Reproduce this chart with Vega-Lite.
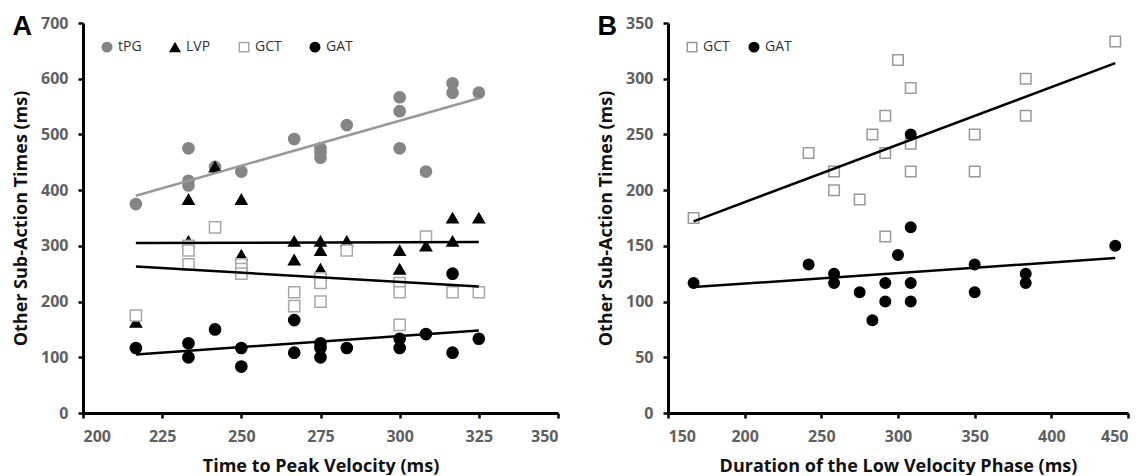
{
  "$schema": "https://vega.github.io/schema/vega-lite/v6.json",
  "padding": {"left": 12, "top": 13, "right": 0, "bottom": 0},
  "background": "white",
  "config": {
    "view": {"stroke": null},
    "font": "Open Sans",
    "axis": {
      "grid": false,
      "domainColor": "#000",
      "domainWidth": 3,
      "tickColor": "#000",
      "tickWidth": 2.5,
      "tickSize": 5,
      "labelColor": "#606060",
      "labelFont": "Open Sans",
      "labelFontSize": 16,
      "labelFontWeight": "bold",
      "labelPadding": 10,
      "titleFont": "Open Sans",
      "titleFontSize": 18,
      "titleFontWeight": "bold",
      "titleColor": "#111"
    },
    "axisX": {"titlePadding": 13},
    "axisY": {"titlePadding": 10},
    "legend": {
      "orient": "top-left",
      "direction": "horizontal",
      "offset": 17,
      "labelFont": "Open Sans",
      "labelFontSize": 14,
      "labelColor": "#333",
      "symbolSize": 90,
      "symbolStrokeWidth": 1.5,
      "padding": 0
    },
    "title": {"font": "Arial", "fontSize": 27, "fontWeight": "bold", "color": "#000", "anchor": "start", "frame": "bounds", "offset": 0}
  },
  "datasets": {
    "a_points": [
      {"t": 216.7, "v": 375, "s": "tPG"},
      {"t": 233.3, "v": 475, "s": "tPG"},
      {"t": 233.3, "v": 416.7, "s": "tPG"},
      {"t": 233.3, "v": 408.3, "s": "tPG"},
      {"t": 241.7, "v": 441.7, "s": "tPG"},
      {"t": 250, "v": 433.3, "s": "tPG"},
      {"t": 266.7, "v": 491.7, "s": "tPG"},
      {"t": 275, "v": 475, "s": "tPG"},
      {"t": 275, "v": 466.7, "s": "tPG"},
      {"t": 275, "v": 458.3, "s": "tPG"},
      {"t": 283.3, "v": 516.7, "s": "tPG"},
      {"t": 300, "v": 566.7, "s": "tPG"},
      {"t": 300, "v": 541.7, "s": "tPG"},
      {"t": 300, "v": 475, "s": "tPG"},
      {"t": 308.3, "v": 433.3, "s": "tPG"},
      {"t": 316.7, "v": 591.7, "s": "tPG"},
      {"t": 316.7, "v": 575, "s": "tPG"},
      {"t": 325, "v": 575, "s": "tPG"},
      {"t": 216.7, "v": 163, "s": "LVP"},
      {"t": 233.3, "v": 383.3, "s": "LVP"},
      {"t": 233.3, "v": 308.3, "s": "LVP"},
      {"t": 241.7, "v": 441.7, "s": "LVP"},
      {"t": 250, "v": 383.3, "s": "LVP"},
      {"t": 250, "v": 283.3, "s": "LVP"},
      {"t": 266.7, "v": 308.3, "s": "LVP"},
      {"t": 266.7, "v": 275, "s": "LVP"},
      {"t": 275, "v": 308.3, "s": "LVP"},
      {"t": 275, "v": 291.7, "s": "LVP"},
      {"t": 275, "v": 258.3, "s": "LVP"},
      {"t": 283.3, "v": 308.3, "s": "LVP"},
      {"t": 300, "v": 291.7, "s": "LVP"},
      {"t": 300, "v": 258.3, "s": "LVP"},
      {"t": 308.3, "v": 300, "s": "LVP"},
      {"t": 316.7, "v": 308.3, "s": "LVP"},
      {"t": 316.7, "v": 350, "s": "LVP"},
      {"t": 325, "v": 350, "s": "LVP"},
      {"t": 216.7, "v": 175, "s": "GCT"},
      {"t": 233.3, "v": 300, "s": "GCT"},
      {"t": 233.3, "v": 291.7, "s": "GCT"},
      {"t": 233.3, "v": 266.7, "s": "GCT"},
      {"t": 241.7, "v": 333.3, "s": "GCT"},
      {"t": 250, "v": 266.7, "s": "GCT"},
      {"t": 250, "v": 258.3, "s": "GCT"},
      {"t": 250, "v": 250, "s": "GCT"},
      {"t": 266.7, "v": 216.7, "s": "GCT"},
      {"t": 266.7, "v": 191.7, "s": "GCT"},
      {"t": 275, "v": 241.7, "s": "GCT"},
      {"t": 275, "v": 233.3, "s": "GCT"},
      {"t": 275, "v": 200, "s": "GCT"},
      {"t": 283.3, "v": 291.7, "s": "GCT"},
      {"t": 300, "v": 233.3, "s": "GCT"},
      {"t": 300, "v": 216.7, "s": "GCT"},
      {"t": 300, "v": 158.3, "s": "GCT"},
      {"t": 308.3, "v": 316.7, "s": "GCT"},
      {"t": 316.7, "v": 216.7, "s": "GCT"},
      {"t": 325, "v": 216.7, "s": "GCT"},
      {"t": 216.7, "v": 116.7, "s": "GAT"},
      {"t": 233.3, "v": 125, "s": "GAT"},
      {"t": 233.3, "v": 100, "s": "GAT"},
      {"t": 241.7, "v": 150, "s": "GAT"},
      {"t": 250, "v": 116.7, "s": "GAT"},
      {"t": 250, "v": 83.3, "s": "GAT"},
      {"t": 266.7, "v": 166.7, "s": "GAT"},
      {"t": 266.7, "v": 108.3, "s": "GAT"},
      {"t": 275, "v": 125, "s": "GAT"},
      {"t": 275, "v": 116.7, "s": "GAT"},
      {"t": 275, "v": 100, "s": "GAT"},
      {"t": 283.3, "v": 116.7, "s": "GAT"},
      {"t": 300, "v": 133.3, "s": "GAT"},
      {"t": 300, "v": 116.7, "s": "GAT"},
      {"t": 308.3, "v": 141.7, "s": "GAT"},
      {"t": 316.7, "v": 250, "s": "GAT"},
      {"t": 316.7, "v": 108.3, "s": "GAT"},
      {"t": 325, "v": 133.3, "s": "GAT"}
    ],
    "a_trend": [
      {"t": 216.7, "v": 390, "t2": 325, "v2": 565, "s": "tPG"},
      {"t": 216.7, "v": 305, "t2": 325, "v2": 307, "s": "LVP"},
      {"t": 216.7, "v": 263, "t2": 325, "v2": 227, "s": "GCT"},
      {"t": 216.7, "v": 105, "t2": 325, "v2": 148, "s": "GAT"}
    ],
    "b_points": [
      {"t": 166.7, "v": 175, "s": "GCT"},
      {"t": 241.7, "v": 233.3, "s": "GCT"},
      {"t": 258.3, "v": 216.7, "s": "GCT"},
      {"t": 258.3, "v": 200, "s": "GCT"},
      {"t": 275, "v": 191.7, "s": "GCT"},
      {"t": 283.3, "v": 250, "s": "GCT"},
      {"t": 291.7, "v": 266.7, "s": "GCT"},
      {"t": 291.7, "v": 233.3, "s": "GCT"},
      {"t": 291.7, "v": 158.3, "s": "GCT"},
      {"t": 300, "v": 316.7, "s": "GCT"},
      {"t": 308.3, "v": 291.7, "s": "GCT"},
      {"t": 308.3, "v": 241.7, "s": "GCT"},
      {"t": 308.3, "v": 216.7, "s": "GCT"},
      {"t": 350, "v": 250, "s": "GCT"},
      {"t": 350, "v": 216.7, "s": "GCT"},
      {"t": 383.3, "v": 300, "s": "GCT"},
      {"t": 383.3, "v": 266.7, "s": "GCT"},
      {"t": 441.7, "v": 333.3, "s": "GCT"},
      {"t": 166.7, "v": 116.7, "s": "GAT"},
      {"t": 241.7, "v": 133.3, "s": "GAT"},
      {"t": 258.3, "v": 125, "s": "GAT"},
      {"t": 258.3, "v": 116.7, "s": "GAT"},
      {"t": 275, "v": 108.3, "s": "GAT"},
      {"t": 283.3, "v": 83.3, "s": "GAT"},
      {"t": 291.7, "v": 116.7, "s": "GAT"},
      {"t": 291.7, "v": 100, "s": "GAT"},
      {"t": 300, "v": 141.7, "s": "GAT"},
      {"t": 308.3, "v": 250, "s": "GAT"},
      {"t": 308.3, "v": 166.7, "s": "GAT"},
      {"t": 308.3, "v": 116.7, "s": "GAT"},
      {"t": 308.3, "v": 100, "s": "GAT"},
      {"t": 350, "v": 133.3, "s": "GAT"},
      {"t": 350, "v": 108.3, "s": "GAT"},
      {"t": 383.3, "v": 125, "s": "GAT"},
      {"t": 383.3, "v": 116.7, "s": "GAT"},
      {"t": 441.7, "v": 150, "s": "GAT"}
    ],
    "b_trend": [
      {"t": 166.7, "v": 172, "t2": 441.7, "v2": 314, "s": "GCT"},
      {"t": 166.7, "v": 113, "t2": 441.7, "v2": 139, "s": "GAT"}
    ]
  },
  "spacing": 37,
  "resolve": {
    "scale": {"shape": "independent", "fill": "independent", "stroke": "independent", "color": "independent"},
    "legend": {"shape": "independent", "fill": "independent", "stroke": "independent"}
  },
  "hconcat": [
    {
      "title": {"text": "A", "dy": 30},
      "width": 475,
      "height": 390,
      "layer": [
        {
          "data": {"name": "a_points"},
          "mark": {"type": "point", "filled": true, "opacity": 1, "strokeWidth": 1.5, "size": 125},
          "encoding": {
            "x": {"field": "t", "type": "quantitative", "scale": {"domain": [200, 350], "nice": false}, "axis": {"values": [200, 225, 250, 275, 300, 325, 350], "title": "Time to Peak Velocity (ms)"}},
            "y": {"field": "v", "type": "quantitative", "scale": {"domain": [0, 700], "nice": false}, "axis": {"values": [0, 100, 200, 300, 400, 500, 600, 700], "title": "Other Sub-Action Times (ms)"}},
            "shape": {"field": "s", "type": "nominal", "scale": {"domain": ["tPG", "LVP", "GCT", "GAT"], "range": ["circle", "triangle-up", "square", "circle"]},
              "legend": {"title": null, "columnPadding": 25}},
            "fill": {"field": "s", "type": "nominal", "scale": {"domain": ["tPG", "LVP", "GCT", "GAT"], "range": ["#858585", "#000000", "#ffffff", "#000000"]}},
            "stroke": {"field": "s", "type": "nominal", "scale": {"domain": ["tPG", "LVP", "GCT", "GAT"], "range": ["#858585", "#000000", "#a8a8a8", "#000000"]}}
          }
        },
        {
          "data": {"name": "a_trend"},
          "mark": {"type": "rule", "strokeWidth": 2.5},
          "encoding": {
            "x": {"field": "t", "type": "quantitative", "scale": {"domain": [200, 350], "nice": false}, "axis": {"values": [200, 225, 250, 275, 300, 325, 350], "title": "Time to Peak Velocity (ms)"}},
            "x2": {"field": "t2"},
            "y": {"field": "v", "type": "quantitative", "scale": {"domain": [0, 700], "nice": false}, "axis": {"values": [0, 100, 200, 300, 400, 500, 600, 700], "title": "Other Sub-Action Times (ms)"}},
            "y2": {"field": "v2"},
            "color": {"field": "s", "type": "nominal", "scale": {"domain": ["tPG", "LVP", "GCT", "GAT"], "range": ["#999999", "#000000", "#000000", "#000000"]}, "legend": null}
          }
        }
      ]
    },
    {
      "title": {"text": "B", "dy": 30},
      "width": 460,
      "height": 390,
      "layer": [
        {
          "data": {"name": "b_points"},
          "mark": {"type": "point", "filled": true, "opacity": 1, "strokeWidth": 1.5, "size": 110},
          "encoding": {
            "x": {"field": "t", "type": "quantitative", "scale": {"domain": [150, 450], "nice": false}, "axis": {"values": [150, 200, 250, 300, 350, 400, 450], "title": "Duration of the Low Velocity Phase (ms)"}},
            "y": {"field": "v", "type": "quantitative", "scale": {"domain": [0, 350], "nice": false}, "axis": {"values": [0, 50, 100, 150, 200, 250, 300, 350], "title": "Other Sub-Action Times (ms)"}},
            "shape": {"field": "s", "type": "nominal", "scale": {"domain": ["GCT", "GAT"], "range": ["square", "circle"]},
              "legend": {"title": null, "columnPadding": 16}},
            "fill": {"field": "s", "type": "nominal", "scale": {"domain": ["GCT", "GAT"], "range": ["#ffffff", "#000000"]}},
            "stroke": {"field": "s", "type": "nominal", "scale": {"domain": ["GCT", "GAT"], "range": ["#999999", "#000000"]}}
          }
        },
        {
          "data": {"name": "b_trend"},
          "mark": {"type": "rule", "strokeWidth": 2.5, "color": "#000"},
          "encoding": {
            "x": {"field": "t", "type": "quantitative", "scale": {"domain": [150, 450], "nice": false}, "axis": {"values": [150, 200, 250, 300, 350, 400, 450], "title": "Duration of the Low Velocity Phase (ms)"}},
            "x2": {"field": "t2"},
            "y": {"field": "v", "type": "quantitative", "scale": {"domain": [0, 350], "nice": false}, "axis": {"values": [0, 50, 100, 150, 200, 250, 300, 350], "title": "Other Sub-Action Times (ms)"}},
            "y2": {"field": "v2"}
          }
        }
      ]
    }
  ]
}
